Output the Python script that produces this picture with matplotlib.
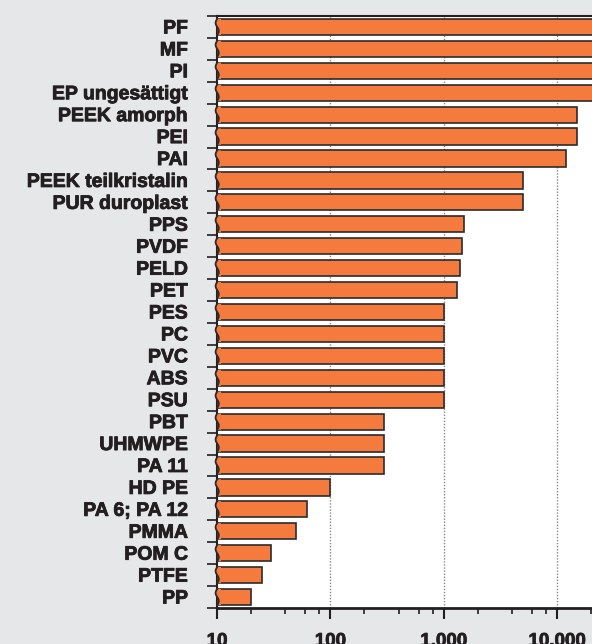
import matplotlib
matplotlib.use("Agg")
import matplotlib.pyplot as plt
from matplotlib.ticker import FixedLocator, NullFormatter
import matplotlib.transforms as mtransforms
import matplotlib.patheffects as pe
import numpy as np

categories = ["PF", "MF", "PI", "EP ungesättigt", "PEEK amorph", "PEI", "PAI",
              "PEEK teilkristalin", "PUR duroplast", "PPS", "PVDF", "PELD", "PET",
              "PES", "PC", "PVC", "ABS", "PSU", "PBT", "UHMWPE", "PA 11", "HD PE",
              "PA 6; PA 12", "PMMA", "POM C", "PTFE", "PP"]
values = [50000, 50000, 50000, 50000, 15000, 15000, 12000,
          5000, 5000, 1500, 1450, 1400, 1300,
          1000, 1000, 1000, 1000, 1000, 300, 300, 300, 100,
          62, 50, 30, 25, 20]
xticks = [10, 100, 1000, 10000]
xtick_labels = ["10", "100", "1.000", "10.000"]

bg = "#e6e7e9"
orange = "#f47a3e"
txt = "#231f20"
edge = "#2b2b2b"

fig = plt.figure(figsize=(5.92, 6.44), dpi=100, facecolor=bg)
ax_w_px = 592 - 217
ax = fig.add_axes([217/592, 1-608/644, ax_w_px/592, (608-16)/644])
ax.set_facecolor("white")

y = np.arange(len(categories))
bar_h = 0.74
ax.barh(y, [v - 10 for v in values], left=10, height=bar_h, color=orange,
        edgecolor=edge, linewidth=1.2, zorder=3)

# wavy "break" at the left edge of each bar
tr = mtransforms.blended_transform_factory(ax.transAxes, ax.transData)
t = np.linspace(0, 1, 40)
for i in y:
    yy = i - bar_h/2 + bar_h * t
    xw = (-1.6 * np.sin(2 * np.pi * t) + 0.2) / ax_w_px
    poly_x = np.concatenate([xw, np.full_like(t, 4 / ax_w_px)])
    poly_y = np.concatenate([yy, yy[::-1]])
    ax.fill(poly_x, poly_y, color=orange, transform=tr, zorder=4, clip_on=False, lw=0)
    ax.plot(xw, yy, color=edge, lw=1.3, transform=tr, zorder=5, clip_on=False)

ax.set_xscale("log")
ax.set_xlim(10, 10 ** (4 + 35/113.5))
ax.set_ylim(len(categories) - 0.5, -0.5)

for xv in [100, 1000, 10000]:
    ax.axvline(xv, color="#8a8a8a", linestyle=(0, (1, 1.2)), linewidth=1.0, zorder=1)

stroke = [pe.withStroke(linewidth=0.6, foreground=txt)]
ax.set_yticks(y)
ax.set_yticklabels(categories, fontfamily="Liberation Sans", fontweight="bold",
                   fontsize=14, color=txt)
ax.yaxis.set_minor_locator(FixedLocator(np.arange(-0.5, len(categories), 1.0)))
ax.tick_params(axis="y", which="major", length=0, pad=21)
ax.tick_params(axis="y", which="minor", length=7, width=1.2, color=txt, direction="out")

ax.xaxis.set_major_locator(FixedLocator(xticks))
ax.set_xticklabels(xtick_labels, fontfamily="Liberation Sans", fontweight="bold",
                   fontsize=13.5, color=txt)
minors = [m * 10 ** d for d in range(1, 5) for m in (2, 4, 6, 8)]
ax.xaxis.set_minor_locator(FixedLocator(minors))
ax.xaxis.set_minor_formatter(NullFormatter())
ax.tick_params(axis="x", which="major", length=8, width=1.5, color=txt, pad=10)
ax.tick_params(axis="x", which="minor", length=4, width=1.2, color=txt)

for lab in ax.get_yticklabels() + ax.get_xticklabels():
    lab.set_path_effects(stroke)

for s in ["left", "bottom", "top"]:
    ax.spines[s].set_color(txt)
ax.spines["left"].set_linewidth(1.5)
ax.spines["bottom"].set_linewidth(2)
ax.spines["top"].set_linewidth(1.5)
ax.spines["right"].set_visible(False)

fig.savefig("out.png", dpi=100, facecolor=bg)
